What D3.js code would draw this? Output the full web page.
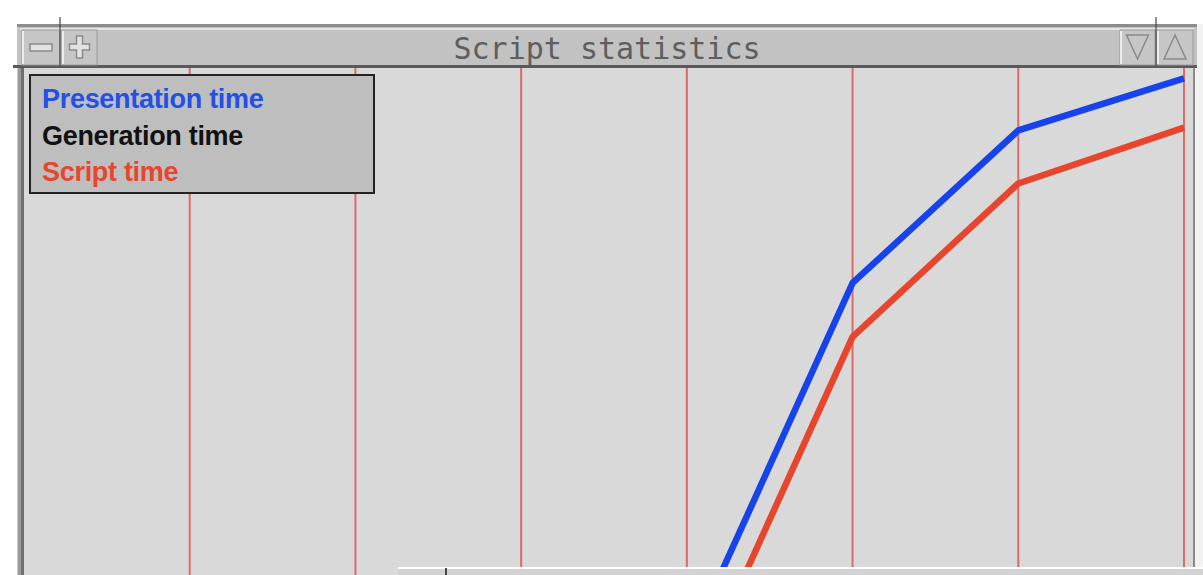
<!DOCTYPE html>
<html>
<head>
<meta charset="utf-8">
<script src="https://cdn.jsdelivr.net/npm/d3@7"></script>
<style>
  html, body { margin: 0; padding: 0; background: #fff; }
  svg { display: block; }
</style>
</head>
<body>
<div id="chart"></div>
<script>
// sample index along the x axis (0 is the left edge of the panel)
const samples = [0, 1, 2, 3, 4, 5, 6, 7]
const gridTicks = [1, 2, 3, 4, 5, 6, 7]

// times (earlier samples are off the bottom of the panel)
const presentationTime = [null, null, null, null, 37.8, 77.1, 93.5, 99.1]
const generationTime = [0, 0, 0, 0, 5, 9, 12, 14]
const scriptTime = [null, null, null, null, 32.0, 71.3, 87.8, 93.8]

const legendLabels = ["Presentation time", "Generation time", "Script time"]
const legendColors = ["#2350e6", "#111111", "#e6462e"]

const width = 1203
const height = 575
const panel = {left: 24, right: 1193, top: 68, bottom: 575}

const svg = d3.select("#chart").append("svg")
  .attr("width", width)
  .attr("height", height)

// window frame
svg.append("rect")
  .attr("x", 17).attr("y", 24)
  .attr("width", 1181).attr("height", 560)
  .attr("fill", "#c8c8c8")

svg.append("rect")
  .attr("x", panel.left).attr("y", panel.top)
  .attr("width", panel.right - panel.left).attr("height", panel.bottom - panel.top)
  .attr("fill", "#d9d9d9")

// left / right frame edges
svg.append("rect").attr("x", 18).attr("y", 68).attr("width", 3).attr("height", 507).attr("fill", "#9a9a9a")
svg.append("rect").attr("x", 21).attr("y", 68).attr("width", 3).attr("height", 507).attr("fill", "#6e6e6e")
svg.append("rect").attr("x", 1193).attr("y", 68).attr("width", 2).attr("height", 507).attr("fill", "#8a8a8a")
svg.append("rect").attr("x", 1195).attr("y", 24).attr("width", 8).attr("height", 551).attr("fill", "#f2f2f2")

const x = d3.scaleLinear().domain([0, 7]).range([24, 1184])
const y = d3.scaleLinear().domain([0, 100]).range([1000, 70])

svg.append("clipPath").attr("id", "plotclip")
  .append("rect")
  .attr("x", panel.left).attr("y", panel.top)
  .attr("width", panel.right - panel.left).attr("height", panel.bottom - panel.top)

const plot = svg.append("g").attr("clip-path", "url(#plotclip)")

plot.selectAll("line.grid")
  .data(gridTicks)
  .join("line")
  .attr("class", "grid")
  .attr("x1", d => x(d)).attr("x2", d => x(d))
  .attr("y1", panel.top).attr("y2", panel.bottom)
  .attr("stroke", "#dc6a66")
  .attr("stroke-width", 2)

const line = d3.line()
  .defined(d => d[1] != null)
  .x(d => x(d[0]))
  .y(d => y(d[1]))

const series = [
  {values: generationTime, color: "#111111"},
  {values: scriptTime, color: "#e6462e"},
  {values: presentationTime, color: "#1643ea"}
]

plot.selectAll("path.series")
  .data(series)
  .join("path")
  .attr("class", "series")
  .attr("d", s => line(samples.map((k, i) => [k, s.values[i]])))
  .attr("fill", "none")
  .attr("stroke", s => s.color)
  .attr("stroke-width", 6.5)
  .attr("stroke-linejoin", "round")

// overlapping window at the bottom
const under = svg.append("g")
under.append("rect").attr("x", 398).attr("y", 567).attr("width", 805).attr("height", 8).attr("fill", "#d2d2d2")
under.append("rect").attr("x", 398).attr("y", 567).attr("width", 805).attr("height", 2).attr("fill", "#ffffff")
under.append("rect").attr("x", 445).attr("y", 568).attr("width", 2).attr("height", 7).attr("fill", "#444")

// title bar
const bar = svg.append("g")
bar.append("rect").attr("x", 17).attr("y", 24).attr("width", 1180).attr("height", 44).attr("fill", "#c2c2c2")
bar.append("rect").attr("x", 17).attr("y", 24).attr("width", 1180).attr("height", 3).attr("fill", "#8c8c8c")
bar.append("rect").attr("x", 20).attr("y", 28).attr("width", 1174).attr("height", 2).attr("fill", "#e4e4e4")
bar.append("rect").attr("x", 13).attr("y", 65).attr("width", 1184).attr("height", 3).attr("fill", "#5a5a5a")

const buttons = [
  {x0: 22, x1: 60, glyph: "minus"},
  {x0: 62, x1: 97, glyph: "plus"},
  {x0: 1120, x1: 1155, glyph: "down"},
  {x0: 1157, x1: 1193, glyph: "up"}
]
const btn = bar.selectAll("g.btn").data(buttons).join("g").attr("class", "btn")
btn.append("rect")
  .attr("x", d => d.x0).attr("y", 30)
  .attr("width", d => d.x1 - d.x0).attr("height", 35)
  .attr("fill", "#c6c6c6")
  .attr("stroke", "#9a9a9a").attr("stroke-width", 1)
btn.append("line")
  .attr("x1", d => d.x0 + 1).attr("x2", d => d.x0 + 1)
  .attr("y1", 31).attr("y2", 64)
  .attr("stroke", "#ececec").attr("stroke-width", 2)
btn.append("path")
  .attr("d", d => {
    const cx = (d.x0 + d.x1) / 2, cy = 47
    if (d.glyph === "minus") return `M${cx - 11},${cy - 3}h22v7h-22z`
    if (d.glyph === "plus") return `M${cx - 10},${cy - 3}h7v-8h6v8h7v6h-7v8h-6v-8h-7z`
    if (d.glyph === "down") return `M${cx - 11},${cy - 12}h22l-11,24z`
    return `M${cx},${cy - 12}l11,24h-22z`
  })
  .attr("fill", d => d.glyph === "minus" || d.glyph === "plus" ? "#e2e2e2" : "none")
  .attr("stroke", "#8a8a8a")
  .attr("stroke-width", 1.5)

bar.append("line").attr("x1", 60).attr("x2", 60).attr("y1", 17).attr("y2", 66).attr("stroke", "#444").attr("stroke-width", 1.2)
bar.append("line").attr("x1", 1156).attr("x2", 1156).attr("y1", 17).attr("y2", 66).attr("stroke", "#444").attr("stroke-width", 1.2)

bar.append("text")
  .attr("x", 607).attr("y", 59)
  .attr("text-anchor", "middle")
  .attr("font-family", "DejaVu Sans Mono, monospace")
  .attr("font-size", 30)
  .attr("fill", "#5e5e5e")
  .text("Script statistics")

// legend
const legend = svg.append("g")
legend.append("rect")
  .attr("x", 30).attr("y", 75)
  .attr("width", 344).attr("height", 118)
  .attr("fill", "#bebebe")
  .attr("stroke", "#222").attr("stroke-width", 2)

legend.selectAll("text")
  .data(legendLabels)
  .join("text")
  .attr("x", 42)
  .attr("y", (d, i) => 108 + i * 36.5)
  .attr("font-family", "Liberation Sans, Arial, sans-serif")
  .attr("font-weight", "bold")
  .attr("font-size", 27)
  .attr("letter-spacing", -0.3)
  .attr("fill", (d, i) => legendColors[i])
  .text(d => d)
</script>
</body>
</html>
